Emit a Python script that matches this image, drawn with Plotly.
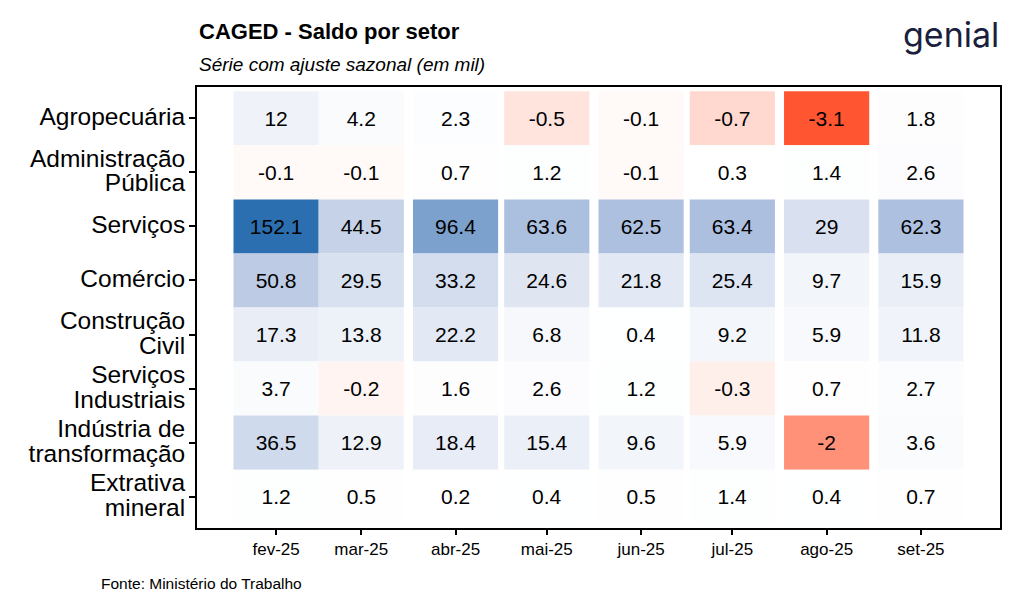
import plotly.graph_objects as go
import pandas as pd

# ---- data ----
months = ["2025-02-01", "2025-03-01", "2025-04-01", "2025-05-01",
          "2025-06-01", "2025-07-01", "2025-08-01", "2025-09-01"]
month_labels = ["fev-25", "mar-25", "abr-25", "mai-25", "jun-25", "jul-25", "ago-25", "set-25"]

sectors = [["Agropecuária"], ["Administração", "Pública"], ["Serviços"], ["Comércio"],
           ["Construção", "Civil"], ["Serviços", "Industriais"], ["Indústria de", "transformação"],
           ["Extrativa", "mineral"]]

agropecuaria = [12, 4.2, 2.3, -0.5, -0.1, -0.7, -3.1, 1.8]
administracao_publica = [-0.1, -0.1, 0.7, 1.2, -0.1, 0.3, 1.4, 2.6]
servicos = [152.1, 44.5, 96.4, 63.6, 62.5, 63.4, 29, 62.3]
comercio = [50.8, 29.5, 33.2, 24.6, 21.8, 25.4, 9.7, 15.9]
construcao_civil = [17.3, 13.8, 22.2, 6.8, 0.4, 9.2, 5.9, 11.8]
servicos_industriais = [3.7, -0.2, 1.6, 2.6, 1.2, -0.3, 0.7, 2.7]
industria_transformacao = [36.5, 12.9, 18.4, 15.4, 9.6, 5.9, -2, 3.6]
extrativa_mineral = [1.2, 0.5, 0.2, 0.4, 0.5, 1.4, 0.4, 0.7]

series = [agropecuaria, administracao_publica, servicos, comercio,
          construcao_civil, servicos_industriais, industria_transformacao, extrativa_mineral]

# ---- build tiles ----
n_rows = len(sectors)
xs, bases, heights, vals, texts = [], [], [], [], []
for r, row in enumerate(series):
    yidx = n_rows - 1 - r
    for m, v in zip(months, row):
        xs.append(m)
        bases.append(yidx - 0.5)
        heights.append(1)
        vals.append(v)
        texts.append(f"{v:g}")

zmin = min(vals)
zmax = max(vals)
mid = (0 - zmin) / (zmax - zmin)
colorscale = [[0, "#FF5530"], [mid, "#FFFFFF"], [0.4, "#B2C3E1"], [1, "#2B6FB0"]]

day_ms = 86400000
tile_width = 28 * day_ms

FONT = "Liberation Sans, Arial, sans-serif"
LABEL_PX = 24.5

tick_text = ["<br>".join(f'<span style="font-size:{LABEL_PX}px">{ln}</span>' for ln in s)
             for s in sectors]

fig = go.Figure()
fig.add_trace(go.Bar(
    x=pd.to_datetime(xs),
    y=heights,
    base=bases,
    width=[tile_width] * len(xs),
    marker=dict(color=vals, colorscale=colorscale, cmin=zmin, cmax=zmax,
                line=dict(width=0), showscale=False),
    text=texts,
    texttemplate="%{text}",
    textposition="inside",
    insidetextanchor="middle",
    textangle=0,
    insidetextfont=dict(family=FONT, size=21, color="black"),
    hoverinfo="skip",
))

fig.update_layout(
    width=1024, height=615,
    barmode="overlay",
    plot_bgcolor="white", paper_bgcolor="white",
    margin=dict(l=197, r=24, t=87, b=87),
    showlegend=False,
    font=dict(family=FONT, color="black"),
    uniformtext=dict(minsize=21, mode="show"),
)

fig.update_xaxes(
    type="date",
    range=["2025-01-06", "2025-09-27"],
    tickvals=pd.to_datetime(months),
    ticktext=month_labels,
    tickfont=dict(family=FONT, size=17, color="black"),
    ticks="outside", ticklen=5, tickwidth=2, tickcolor="black",
    showgrid=False, zeroline=False,
    showline=True, linecolor="black", linewidth=2, mirror=True,
)

fig.update_yaxes(
    range=[-0.58, n_rows - 1 + 0.58],
    tickvals=[n_rows - 1 - i for i in range(n_rows)],
    ticktext=tick_text,
    tickfont=dict(family=FONT, size=19, color="black"),
    ticks="outside", ticklen=6, tickwidth=2, tickcolor="black",
    showgrid=False, zeroline=False,
    showline=True, linecolor="black", linewidth=2, mirror=True,
)

def px_x(px):
    return (px - 197) / 803

def px_y(py):
    return (528 - py) / 441

annotations = [
    dict(text="<b>CAGED - Saldo por setor</b>", x=px_x(197), y=px_y(32),
         font=dict(family=FONT, size=22, color="black")),
    dict(text="<i>Série com ajuste sazonal (em mil)</i>", x=px_x(197), y=px_y(64),
         font=dict(family=FONT, size=19, color="black")),
    dict(text="Fonte: Ministério do Trabalho", x=px_x(99), y=px_y(583),
         font=dict(family=FONT, size=15.5, color="black")),
    dict(text="genial", x=px_x(1001), y=px_y(34), xanchor="right",
         font=dict(family="Inter, Lato, sans-serif", size=34, color="#1B1F3D")),
]
for a in annotations:
    a.setdefault("xanchor", "left")
    a.update(xref="paper", yref="paper", yanchor="middle", showarrow=False)
fig.update_layout(annotations=annotations)

fig.write_html("out.html", config={"displayModeBar": False},
               post_script="document.body.style.margin='0';")
